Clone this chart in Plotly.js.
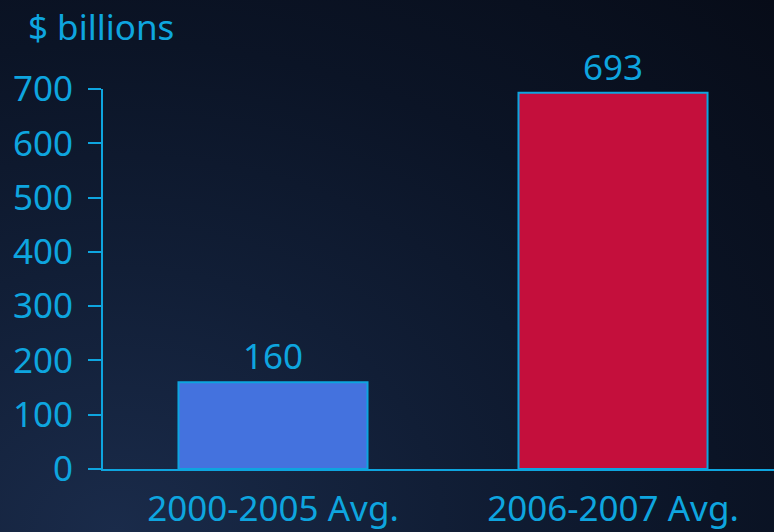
<!DOCTYPE html>
<html>
<head>
<meta charset="utf-8">
<script src="https://cdn.plot.ly/plotly-3.0.1.min.js"></script>
<style>
  html, body { margin: 0; padding: 0; }
  body {
    width: 774px; height: 532px; overflow: hidden;
    background: radial-gradient(ellipse at 15% 100%, #1a2b4a 0%, #111e36 35%, #0b1426 65%, #070c18 100%);
  }
  #chart { width: 774px; height: 532px; }
</style>
</head>
<body>
<div id="chart"></div>
<script>
const categories = ["2000-2005 Avg.", "2006-2007 Avg."];
const values = [160, 693];
const barColors = ["#4472DE", "#C40F3C"];
const yTickVals = [0, 100, 200, 300, 400, 500, 600, 700];
const unitLabel = "$ billions";

const cyan = "#0EA5DF";
const fontFam = "'Noto Sans', 'Open Sans', sans-serif";

const trace = {
  type: "bar",
  x: categories,
  y: values,
  width: 0.556,
  marker: { color: barColors, line: { color: cyan, width: 2 } },
  text: values.map(String),
  textposition: "outside",
  cliponaxis: false,
  textfont: { family: fontFam, size: 35, color: cyan },
  hoverinfo: "none"
};

const layout = {
  width: 774, height: 532,
  margin: { l: 103, r: 0, t: 89, b: 63 },
  paper_bgcolor: "rgba(0,0,0,0)",
  plot_bgcolor: "rgba(0,0,0,0)",
  showlegend: false,
  font: { family: fontFam, color: cyan },
  xaxis: {
    type: "category",
    range: [-0.5, 1.4735],
    showline: true, linecolor: cyan, linewidth: 2,
    ticks: "", showgrid: false, zeroline: false,
    tickfont: { family: fontFam, size: 35, color: cyan },
    ticklabelstandoff: 8
  },
  yaxis: {
    range: [0, 700],
    tickvals: yTickVals,
    ticktext: yTickVals.map(String),
    showline: true, linecolor: cyan, linewidth: 2,
    ticks: "outside", ticklen: 13, tickwidth: 2, tickcolor: cyan,
    showgrid: false, zeroline: false,
    tickfont: { family: fontFam, size: 35, color: cyan },
    ticklabelstandoff: 8
  },
  annotations: [{
    text: unitLabel,
    xref: "paper", yref: "paper",
    x: -0.115, y: 1.165,
    xanchor: "left", yanchor: "middle",
    showarrow: false,
    font: { family: fontFam, size: 35, color: cyan }
  }]
};

Plotly.newPlot("chart", [trace], layout, { displayModeBar: false, staticPlot: true });
</script>
</body>
</html>
